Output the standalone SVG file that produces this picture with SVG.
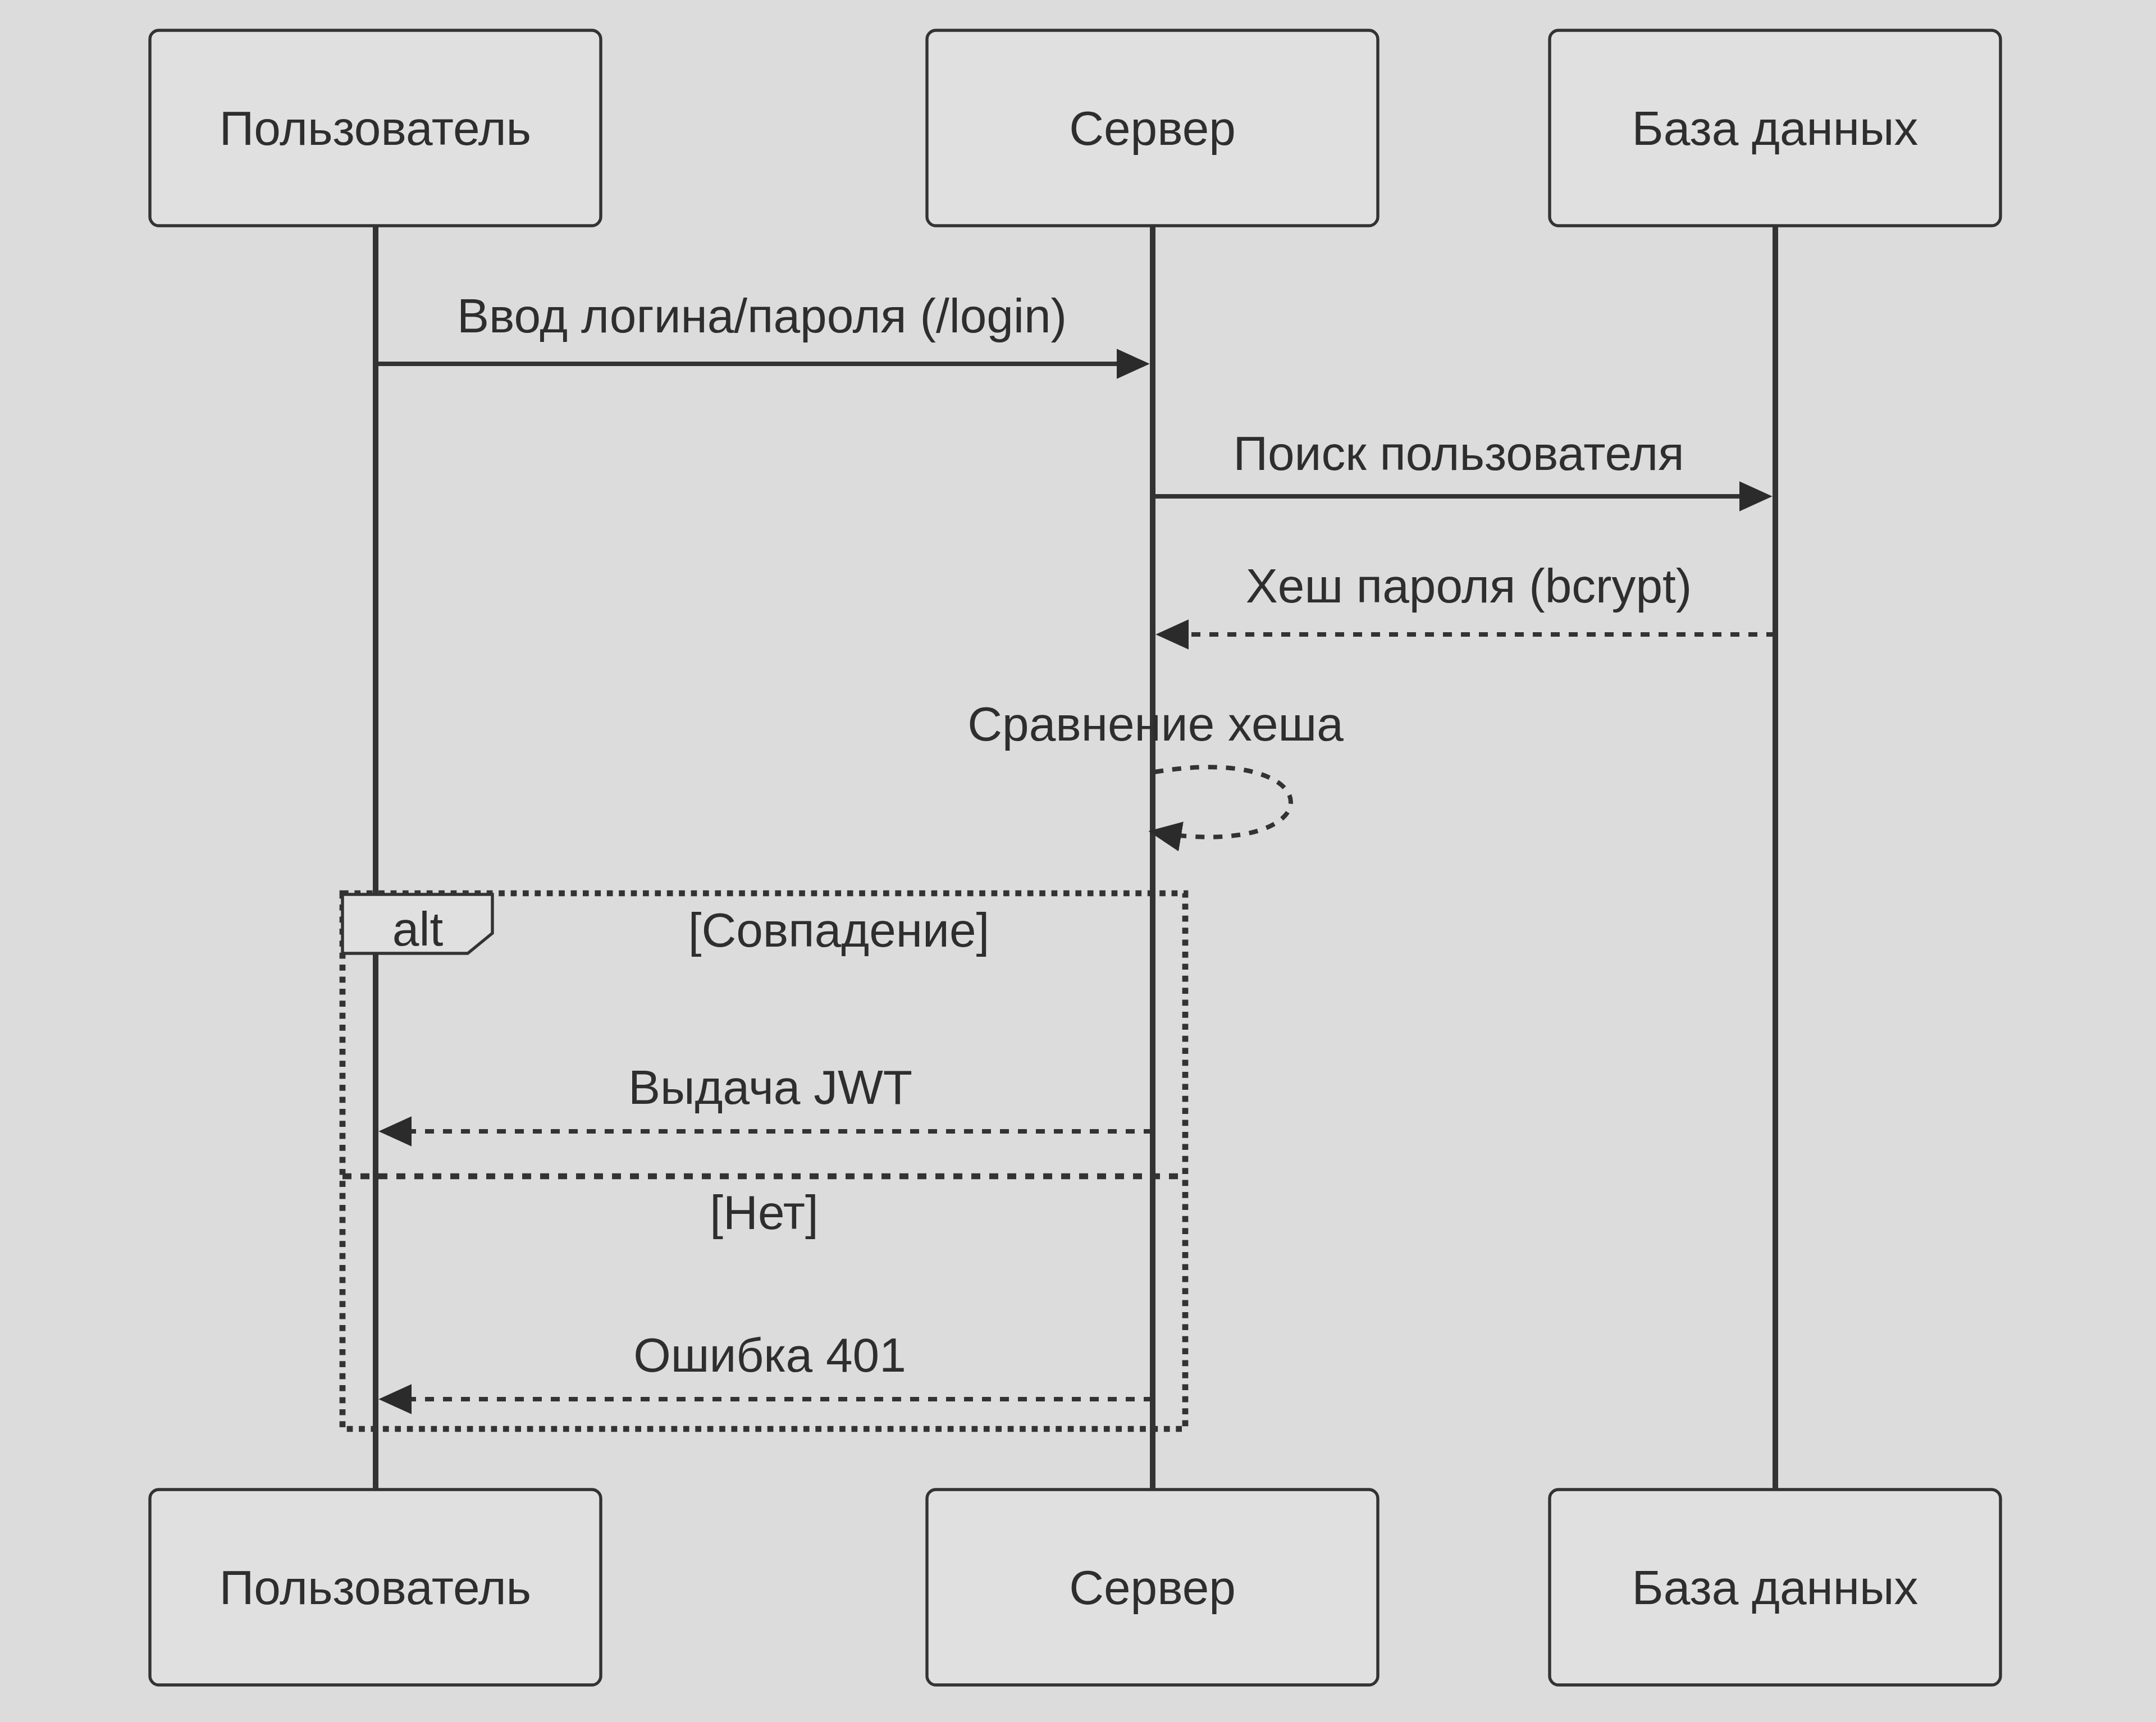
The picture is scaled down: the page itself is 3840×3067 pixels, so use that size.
<svg xmlns="http://www.w3.org/2000/svg" width="3840" height="3067" viewBox="0 0 3840 3067">
  <style>
    .bg { fill: #dcdcdc; }
    .actor { fill: #e0e0e0; stroke: #333; stroke-width: 5.4; }
    .txt { font-family: "Liberation Sans", Arial, Helvetica, sans-serif; font-size: 85.6px; fill: #2e2e2e; text-anchor: middle; }
    .life { stroke: #333; stroke-width: 10; fill: none; }
    .msg { stroke: #333; stroke-width: 8; fill: none; }
    .dash { stroke-dasharray: 16 16; }
    .loop { stroke: #333; stroke-width: 10.7; stroke-dasharray: 10.7 10.7; fill: none; }
    .sep { stroke: #333; stroke-width: 10.7; stroke-dasharray: 16 16; fill: none; }
    .label { fill: #e0e0e0; stroke: #333; stroke-width: 5.4; }
  </style>
  <defs>
    <marker id="ah" markerUnits="userSpaceOnUse" viewBox="0 0 12 10" markerWidth="64.2" markerHeight="53.5" refX="9" refY="5" orient="auto">
      <path d="M 0 0 L 11 5 L 0 10 z" fill="#2b2b2b"/>
    </marker>
  </defs>
  <rect class="bg" x="0" y="0" width="3840" height="3067"/>

  <g id="lifelines">
    <line class="life" x1="669" y1="402" x2="669" y2="2653"/>
    <line class="life" x1="2053" y1="402" x2="2053" y2="2653"/>
    <line class="life" x1="3162" y1="402" x2="3162" y2="2653"/>
  </g>

  <g id="actor-user-top">
    <rect class="actor" x="267" y="54" width="803" height="348" rx="16" ry="16"/>
    <text class="txt" x="668.5" y="258">Пользователь</text>
  </g>
  <g id="actor-server-top">
    <rect class="actor" x="1651" y="54" width="803" height="348" rx="16" ry="16"/>
    <text class="txt" x="2052.5" y="258">Сервер</text>
  </g>
  <g id="actor-db-top">
    <rect class="actor" x="2760" y="54" width="803" height="348" rx="16" ry="16"/>
    <text class="txt" x="3161.5" y="258">База данных</text>
  </g>

  <g id="alt-block">
    <rect class="loop" x="610" y="1591" width="1501" height="954"/>
    <line class="sep" x1="610" y1="2095" x2="2111" y2="2095"/>
    <polygon class="label" points="610,1593 877,1593 877,1662 833,1698 610,1698"/>
    <text class="txt" x="744" y="1684">alt</text>
    <text class="txt" x="1494" y="1686">[Совпадение]</text>
    <text class="txt" x="1361" y="2189">[Нет]</text>
  </g>

  <g id="connectors">
    <line class="msg" x1="669" y1="648" x2="2037" y2="648" marker-end="url(#ah)"/>
    <text class="txt" x="1357" y="592">Ввод логина/пароля (/login)</text>

    <line class="msg" x1="2053" y1="884" x2="3146" y2="884" marker-end="url(#ah)"/>
    <text class="txt" x="2598" y="837">Поиск пользователя</text>

    <line class="msg dash" x1="3162" y1="1130" x2="2069" y2="1130" marker-end="url(#ah)"/>
    <text class="txt" x="2616" y="1073">Хеш пароля (bcrypt)</text>

    <path class="msg dash" d="M 2056,1375 C 2380,1321 2380,1536 2056,1482" marker-end="url(#ah)"/>
    <text class="txt" x="2058" y="1319">Сравнение хеша</text>

    <line class="msg dash" x1="2053" y1="2015" x2="685" y2="2015" marker-end="url(#ah)"/>
    <text class="txt" x="1372" y="1966">Выдача JWT</text>

    <line class="msg dash" x1="2053" y1="2492" x2="685" y2="2492" marker-end="url(#ah)"/>
    <text class="txt" x="1371" y="2443">Ошибка 401</text>
  </g>

  <g id="actor-user-bottom">
    <rect class="actor" x="267" y="2653" width="803" height="348" rx="16" ry="16"/>
    <text class="txt" x="668.5" y="2857">Пользователь</text>
  </g>
  <g id="actor-server-bottom">
    <rect class="actor" x="1651" y="2653" width="803" height="348" rx="16" ry="16"/>
    <text class="txt" x="2052.5" y="2857">Сервер</text>
  </g>
  <g id="actor-db-bottom">
    <rect class="actor" x="2760" y="2653" width="803" height="348" rx="16" ry="16"/>
    <text class="txt" x="3161.5" y="2857">База данных</text>
  </g>
</svg>
